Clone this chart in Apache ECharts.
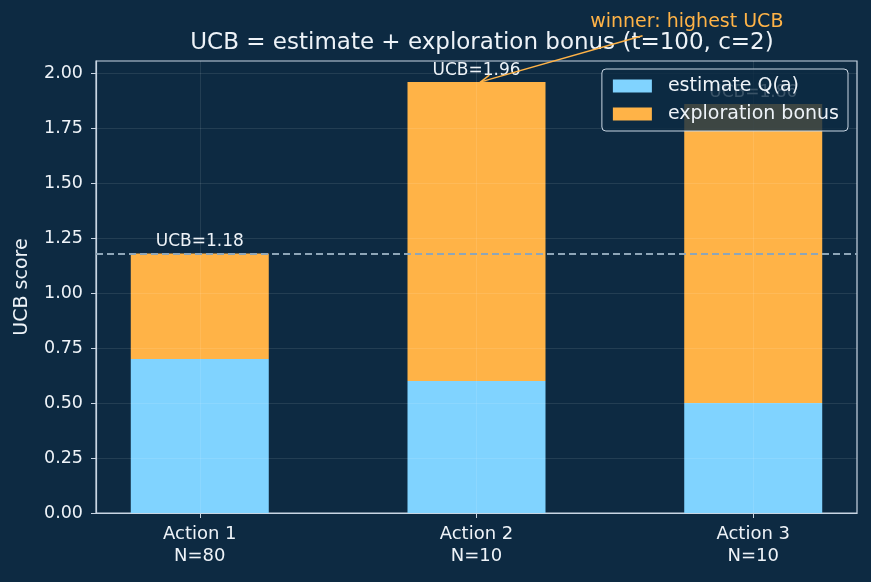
<!DOCTYPE html>
<html>
<head>
<meta charset="utf-8">
<script src="https://cdn.jsdelivr.net/npm/echarts@6/dist/echarts.min.js"></script>
<style>
    html, body { margin: 0; padding: 0; background: #0d2a42; }
    #chart { width: 871px; height: 582px; }
</style>
</head>
<body>
<div id="chart"></div>
<script>
    // data
    var actions = ['Action 1', 'Action 2', 'Action 3'];
    var counts = [80, 10, 10];
    var estimates = [0.70, 0.60, 0.50];
    var bonuses = [0.48, 1.36, 1.36];
    var xTicks = [0, 1, 2];
    var yTicks = [0, 0.25, 0.5, 0.75, 1.0, 1.25, 1.5, 1.75, 2.0];
    var winner = 1;
    var noteText = 'winner: highest UCB';
    var noteAt = [1.76, 2.23];      // text centre (data units)
    var arrowFrom = [1.60, 2.17];   // arrow start (data units)
    var arrowTo = [1.015, 1.96];    // arrow tip (data units)

    var textColor = '#eef3f8';
    var frameColor = '#c9d6e3';
    var gridColor = 'rgba(255,255,255,0.12)';
    var blue = '#80d3ff';
    var orange = '#ffb347';
    var font = 'DejaVu Sans';

    var totals = [];
    for (var i = 0; i < actions.length; i++) {
        totals.push(estimates[i] + bonuses[i]);
    }

    var myChart = echarts.init(document.getElementById('chart'));

    var option = {
        backgroundColor: '#0d2a42',
        animation: false,
        textStyle: { fontFamily: font },
        title: {
            text: 'UCB = estimate + exploration bonus (t=100, c=2)',
            left: 477,
            textAlign: 'center',
            top: 27,
            textStyle: { color: textColor, fontSize: 23, fontWeight: 'normal', fontFamily: font }
        },
        legend: {
            orient: 'vertical',
            right: 23,
            top: 69,
            padding: [7, 9, 7, 11],
            itemGap: 8,
            itemWidth: 39,
            itemHeight: 13,
            icon: 'rect',
            backgroundColor: 'rgba(13,42,66,0.8)',
            borderColor: frameColor,
            borderWidth: 1,
            borderRadius: 4,
            textStyle: { color: textColor, fontSize: 19, lineHeight: 20, fontFamily: font, padding: [0, 0, 0, 11] },
            data: ['estimate Q(a)', 'exploration bonus']
        },
        grid: {
            left: 96,
            right: 14,
            top: 61,
            bottom: 69,
            show: true,
            borderColor: frameColor,
            borderWidth: 1.2,
            backgroundColor: 'transparent'
        },
        xAxis: {
            type: 'value',
            z: 3,
            min: -0.375,
            max: 2.375,
            axisLine: { show: true, onZero: false, lineStyle: { color: frameColor, width: 1.2 } },
            axisTick: { show: true, length: 5, customValues: xTicks, lineStyle: { color: frameColor } },
            axisLabel: {
                customValues: xTicks,
                color: textColor,
                fontSize: 18,
                lineHeight: 22,
                margin: 10,
                formatter: function (v) {
                    var k = Math.round(v);
                    return actions[k] + '\nN=' + counts[k];
                }
            },
            splitLine: { show: true, lineStyle: { color: gridColor, width: 0.8 } }
        },
        yAxis: {
            type: 'value',
            z: 3,
            min: 0,
            max: 2.055,
            interval: 0.25,
            name: 'UCB score',
            nameLocation: 'middle',
            nameGap: 64,
            nameTextStyle: { color: textColor, fontSize: 19 },
            axisLine: { show: true, onZero: false, lineStyle: { color: frameColor, width: 1.2 } },
            axisTick: { show: true, length: 5, customValues: yTicks, lineStyle: { color: frameColor } },
            axisLabel: {
                customValues: yTicks,
                color: textColor,
                fontSize: 17.5,
                margin: 13,
                formatter: function (v) { return v.toFixed(2); }
            },
            splitLine: { show: true, lineStyle: { color: gridColor, width: 0.8 } }
        },
        series: [
            {
                name: 'estimate Q(a)',
                type: 'bar',
                stack: 'ucb',
                barWidth: 138,
                encode: { x: 1, y: 0 },
                itemStyle: { color: blue },
                data: estimates.map(function (v, k) { return [v, xTicks[k]]; })
            },
            {
                name: 'exploration bonus',
                type: 'bar',
                stack: 'ucb',
                barWidth: 138,
                encode: { x: 1, y: 0 },
                itemStyle: { color: orange },
                label: {
                    show: true,
                    position: 'top',
                    distance: 3,
                    color: textColor,
                    fontSize: 17,
                    formatter: function (p) { return 'UCB=' + totals[p.dataIndex].toFixed(2); }
                },
                data: bonuses.map(function (v, k) { return [v, xTicks[k]]; }),
                markLine: {
                    silent: true,
                    symbol: 'none',
                    z: 5,
                    label: { show: false },
                    lineStyle: { color: '#8ea6b8', type: [7, 4], width: 2 },
                    data: [{ yAxis: totals[0] }]
                }
            }
        ]
    };

    myChart.setOption(option);

    // annotation: arrow to the winner's bar top
    var tip = myChart.convertToPixel({ gridIndex: 0 }, arrowTo);
    var from = myChart.convertToPixel({ gridIndex: 0 }, arrowFrom);
    var txt = myChart.convertToPixel({ gridIndex: 0 }, noteAt);
    var ang = Math.atan2(tip[1] - from[1], tip[0] - from[0]);
    var headLen = 11, headAng = 0.38;
    var h1 = [tip[0] - headLen * Math.cos(ang - headAng), tip[1] - headLen * Math.sin(ang - headAng)];
    var h2 = [tip[0] - headLen * Math.cos(ang + headAng), tip[1] - headLen * Math.sin(ang + headAng)];

    myChart.setOption({
        graphic: [
            {
                type: 'line',
                z: 100,
                shape: { x1: from[0], y1: from[1], x2: tip[0], y2: tip[1] },
                style: { stroke: orange, lineWidth: 1.5 }
            },
            {
                type: 'polyline',
                z: 100,
                shape: { points: [h1, tip, h2] },
                style: { stroke: orange, lineWidth: 1.5, fill: null }
            },
            {
                type: 'text',
                z: 100,
                x: txt[0],
                y: txt[1],
                style: {
                    text: noteText,
                    fill: orange,
                    fontSize: 19,
                    fontFamily: font,
                    align: 'center',
                    verticalAlign: 'middle'
                }
            }
        ]
    });
</script>
</body>
</html>
